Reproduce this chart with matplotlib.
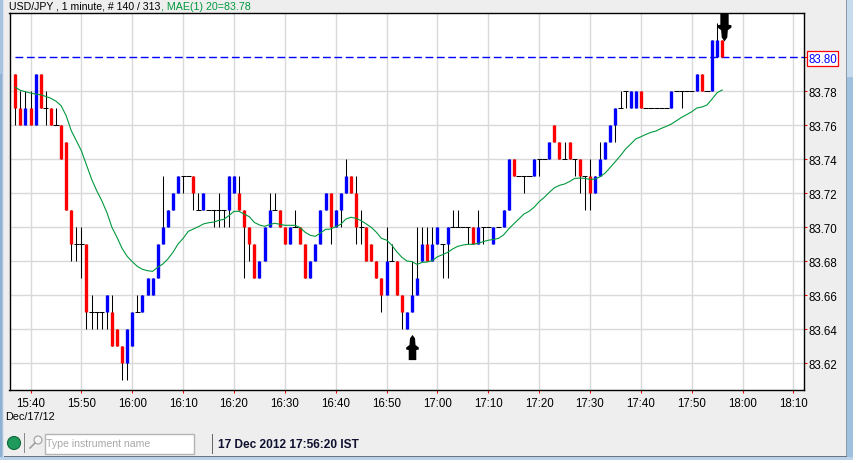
import matplotlib
matplotlib.use('Agg')
import matplotlib.pyplot as plt
from matplotlib.patches import Rectangle, Circle
from matplotlib.path import Path

plt.rcParams['font.family'] = ['Liberation Sans', 'DejaVu Sans']

W, H = 860, 464
BG = '#eeeeee'

# prices are in pips above 83.00, one entry per minute starting at 15:37
opens = [79,77,76,77,76,79,77,77,76,76,75,71,69,69,69,65,65,65,65,65,64,63,62,63,65,65,66,66,67,69,
         70,71,72,73,73,73,71,71,71,71,71,71,71,72,72,71,70,69,67,68,70,71,71,70,69,70,70,69,67,68,
         69,71,72,70,71,72,73,72,70,70,69,68,67,66,68,68,66,64,65,66,68,69,68,69,69,69,70,70,70,70,
         70,69,70,70,69,70,70,71,74,73,73,73,73,74,74,74,76,75,74,75,74,74,73,73,72,73,74,75,76,77,
         78,77,77,78,77,77,77,77,77,77,78,78,78,78,78,79,78,78,80,81]
closes = [77,76,77,76,79,77,77,76,76,74,71,69,69,69,65,65,65,65,66,63,63,62,64,65,65,66,67,67,69,70,
          71,72,73,73,73,72,71,72,71,71,71,71,73,73,71,70,69,67,68,70,71,71,70,69,70,70,69,67,68,69,
          71,72,70,71,72,73,72,70,70,68,68,67,66,68,68,66,65,65,66,67,69,68,69,70,69,70,70,70,70,70,
          69,70,70,70,70,70,71,74,73,73,73,73,74,74,74,75,75,74,74,74,74,73,73,72,73,74,75,76,77,77,
          78,78,78,77,77,77,77,77,77,78,78,78,78,78,79,78,78,81,81,80]
highs = [79,78,78,78,79,79,78,77,77,76,75,71,70,70,69,66,65,65,66,66,64,63,64,65,66,66,67,67,69,73,
         71,72,73,73,73,73,72,72,71,71,72,71,73,73,73,71,70,69,68,70,72,72,71,70,70,71,70,69,68,69,
         71,72,72,71,72,74,73,73,71,70,69,68,67,70,69,68,66,65,68,70,70,70,70,70,69,70,71,71,70,70,
         70,71,70,70,70,70,71,74,74,73,73,73,74,74,74,75,76,75,75,75,74,74,73,74,73,75,75,76,77,78,
         78,78,78,78,77,77,77,77,77,78,78,78,78,78,79,79,78,81,82,81]
lows = [76,76,76,76,76,77,76,76,76,74,71,68,68,67,64,64,64,64,64,63,63,61,61,63,65,65,66,66,67,69,
        70,71,72,72,73,71,71,71,71,70,70,70,70,72,71,67,68,67,67,68,70,71,70,69,69,70,69,67,67,68,
        69,71,69,70,70,72,72,69,69,68,68,67,65,66,68,66,64,64,65,66,68,68,68,69,67,67,70,70,70,69,
        69,69,69,70,69,70,70,71,73,73,72,73,73,73,74,74,75,74,74,74,73,72,71,71,72,73,74,75,75,77,
        77,77,77,77,77,77,77,77,77,77,78,77,78,78,78,78,78,78,80,80]

# moving average line, read bar by bar
ma_values = [83.7824,83.7806,83.7798,83.7790,83.7784,83.7780,83.7770,83.7759,83.7742,83.7716,
             83.7657,83.7569,83.7510,83.7450,83.7367,83.7284,83.7216,83.7157,83.7088,83.7000,
             83.6941,83.6876,83.6829,83.6798,83.6770,83.6753,83.6745,83.6741,83.6765,83.6784,
             83.6814,83.6853,83.6902,83.6935,83.6976,83.6990,83.7004,83.7020,83.7027,83.7031,
             83.7041,83.7047,83.7069,83.7094,83.7094,83.7078,83.7063,83.7029,83.7014,83.7006,
             83.7016,83.7024,83.7018,83.7012,83.7012,83.7012,83.6998,83.6971,83.6953,83.6947,
             83.6967,83.6988,83.6990,83.7004,83.7018,83.7049,83.7059,83.7053,83.7039,83.7020,
             83.7000,83.6971,83.6935,83.6925,83.6896,83.6857,83.6824,83.6802,83.6798,83.6782,
             83.6794,83.6796,83.6804,83.6827,83.6839,83.6853,83.6873,83.6888,83.6896,83.6900,
             83.6900,83.6906,83.6916,83.6924,83.6929,83.6935,83.6955,83.6990,83.7020,83.7049,
             83.7078,83.7094,83.7118,83.7151,83.7176,83.7206,83.7233,83.7247,83.7255,83.7270,
             83.7288,83.7290,83.7288,83.7282,83.7284,83.7298,83.7320,83.7353,83.7388,83.7422,
             83.7461,83.7490,83.7520,83.7533,83.7547,83.7559,83.7567,83.7582,83.7594,83.7608,
             83.7627,83.7647,83.7663,83.7680,83.7702,83.7708,83.7720,83.7755,83.7792,83.7808]

x_tick_minutes = [3, 13, 23, 33, 43, 53, 63, 73, 83, 93, 103, 113, 123, 133, 143, 153]
x_tick_labels = ['15:40', '15:50', '16:00', '16:10', '16:20', '16:30', '16:40', '16:50',
                 '17:00', '17:10', '17:20', '17:30', '17:40', '17:50', '18:00', '18:10']
y_ticks = [83.62, 83.64, 83.66, 83.68, 83.70, 83.72, 83.74, 83.76, 83.78, 83.80]
last_price = 83.80
arrow_up_bar, arrow_up_price = 78, 83.6294
arrow_down_bar, arrow_down_price = 139.4, 83.8178


def px_rect(fig, x, y, w, h, color, z=-1):
    # rectangle in screen pixels, y measured from the top
    fig.add_artist(Rectangle((x / W, 1 - (y + h) / H), w / W, h / H, transform=fig.transFigure,
                             facecolor=color, edgecolor='none', zorder=z))


fig = plt.figure(figsize=(W / 100, H / 100), dpi=100, facecolor='white')

# window frame and panel
px_rect(fig, 0, 0, 853, 458, BG)
px_rect(fig, 0, 0, 3, 458, '#a9c3de')
px_rect(fig, 0, 75, 2, 383, '#8fb0d2')
px_rect(fig, 3, 0, 1, 458, '#d9e4ef')
px_rect(fig, 846, 0, 1, 458, '#8a9aa8')
px_rect(fig, 847, 0, 6, 458, '#c6dbee')
px_rect(fig, 847, 78, 6, 380, '#9fc0df')
px_rect(fig, 4, 457, 843, 1, '#6a7480')
px_rect(fig, 0, 458, 853, 3, '#b9d2ea')

left, right, top, bottom = 9.5, 803.6, 13.5, 391.0
ax = fig.add_axes([left / W, 1 - bottom / H, (right - left) / W, (bottom - top) / H])
ax.set_facecolor('white')
ax.set_xlim(-1.14, 155.0)
ax.set_ylim(83.6043, 83.8264)

ax.set_xticks(x_tick_minutes)
ax.set_xticklabels(x_tick_labels)
ax.set_yticks(y_ticks)
ax.set_yticklabels(['%.2f' % v for v in y_ticks])
ax.yaxis.tick_right()
ax.tick_params(axis='x', color='#ff0000', length=2.2, width=0.75, labelsize=8.3, pad=2.5, direction='out')
ax.tick_params(axis='y', color='#ff0000', length=2.5, width=0.75, labelsize=8.3, pad=0.8, direction='out')

ax.grid(True, color='#d9d9d9', linewidth=1.0)
ax.set_axisbelow(True)
ax.get_ygridlines()[-1].set_visible(False)
for s in ax.spines.values():
    s.set_linewidth(1.0)
    s.set_color('black')

# blue dashed line at the last price
ax.hlines(last_price, 0, 155.0, color='#0000ff', linewidth=1.0, linestyles=(0, (5.6, 2.6)), zorder=2)

n = len(opens)
for i in range(n):
    o = 83 + opens[i] / 100
    c = 83 + closes[i] / 100
    hi = 83 + highs[i] / 100
    lo = 83 + lows[i] / 100
    ax.vlines(i, lo, hi, color='black', linewidth=0.75, zorder=3)
    if o == c:
        ax.hlines(o, i - 0.5, i + 0.5, color='black', linewidth=0.75, zorder=3)
    else:
        col = '#ff0000' if c < o else '#0000ff'
        ax.vlines(i, min(o, c), max(o, c), color=col, linewidth=2.4, zorder=4)

ax.plot(range(len(ma_values)), ma_values, color='#00993d', linewidth=0.8, zorder=5)

# hand drawn arrows from the chart
arrow = Path([(0, 1), (0.2, 0.72), (0.24, 0.2), (0.5, 0.0), (0.5, -0.16), (0.3, -0.2), (0.3, -1),
              (-0.3, -1), (-0.3, -0.2), (-0.5, -0.16), (-0.5, 0.0), (-0.24, 0.2), (-0.2, 0.72), (0, 1)])
arrow_down = Path(arrow.vertices * [1, -1])
ax.scatter([arrow_up_bar], [arrow_up_price], marker=arrow, s=330, color='black', linewidths=0, zorder=6)
ax.scatter([arrow_down_bar], [arrow_down_price], marker=arrow_down, s=400, color='black', linewidths=0, zorder=6)

last_lab = ax.get_yticklabels()[-1]
last_lab.set_color('#0000ff')
last_lab.set_bbox(dict(facecolor='white', edgecolor='#ff0000', linewidth=0.9, pad=1.0))

# header
fig.text(9 / W, 1 - 6.5 / H, 'USD/JPY , 1 minute, # 140 / 313', fontsize=7.6, va='center', ha='left', color='black')
fig.text(161 / W, 1 - 6.5 / H, ', MAE(1) 20=83.78', fontsize=7.7, va='center', ha='left', color='#00993d')

# footer
fig.text(5 / W, 1 - 417 / H, 'Dec/17/12', fontsize=7.8, va='center', ha='left', color='black')
fig.add_artist(Circle((14, H - 444), 6.5, transform=None, facecolor='#1f9a5c', edgecolor='#0f6a3a', linewidth=0.8))
px_rect(fig, 24, 434, 1, 20, '#8a8a8a', z=2)
px_rect(fig, 212, 435, 1, 20, '#666666', z=2)
fig.add_artist(Rectangle((44.5, H - 454.5), 149, 20, transform=None, facecolor='white', edgecolor='#b4b4b4', linewidth=1.0))
fig.add_artist(Circle((38, H - 441), 4, transform=None, facecolor='#f4f4f4', edgecolor='#a8a8a8', linewidth=0.9))
fig.add_artist(plt.Line2D([30, 35], [H - 449, H - 444], transform=None, color='#a0a0a0', linewidth=1.2))
fig.text(46 / W, 1 - 444 / H, 'Type instrument name', fontsize=7.6, va='center', ha='left', color='#a8a8a8')
fig.text(218 / W, 1 - 445 / H, '17 Dec 2012 17:56:20 IST', fontsize=8.6, fontweight='bold', va='center', ha='left', color='#101030')

fig.savefig('out.png', dpi=100, facecolor=fig.get_facecolor())
